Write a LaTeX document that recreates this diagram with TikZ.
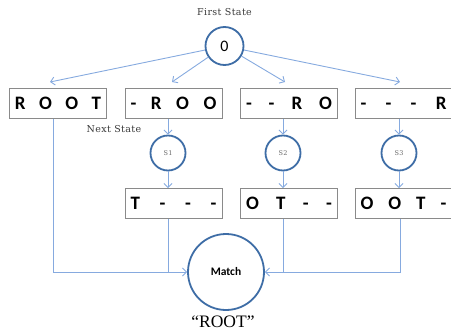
\documentclass[tikz,border=0pt]{standalone}
\usepackage{fontspec}
\setmainfont{Liberation Serif}
\newfontfamily\boxfont{Carlito}
\newfontfamily\lblfont[LetterSpace=4]{DejaVu Serif}
\usetikzlibrary{arrows.meta}
\definecolor{flow}{HTML}{86AADF}
\definecolor{ring}{HTML}{3E6DA6}
\definecolor{frame}{HTML}{8A8A8A}
\definecolor{note}{HTML}{3A3A3A}
\tikzset{
  flowline/.style={draw=flow, line width=0.9pt},
  flowarrow/.style={flowline, -{Straight Barb[length=4pt,width=8pt]}},
  wordbox/.style={draw=frame, line width=0.8pt, minimum width=97pt, minimum height=30pt,
    inner sep=0pt, font=\boxfont\bfseries\fontsize{19}{19}\selectfont},
  state/.style={circle, draw=ring, line width=1.8pt, inner sep=0pt, fill=white},
  note/.style={font=\lblfont\fontsize{9.5}{10}\selectfont, text=note},
  substate/.style={state, minimum size=35pt, font=\lblfont\fontsize{6.5}{7}\selectfont, text=note!75},
}
\newcommand{\spreadword}[1]{\makebox[86pt][s]{#1}}
\begin{document}
\begin{tikzpicture}[x=1pt, y=-1pt]
\useasboundingbox (0,0) rectangle (451,335);

% start state
\node[note] (first) at (224.5,12) {First State};
\node[state, minimum size=38pt, font=\boxfont\fontsize{16}{16}\selectfont] (s0) at (224.5,46) {0};

% shifted copies of the word
\node[wordbox] (w1) at (58,103.5)    {\spreadword{R\hfill O\hfill O\hfill T}};
\node[wordbox] (w2) at (173.5,103.5) {\spreadword{-\hfill R\hfill O\hfill O}};
\node[wordbox] (w3) at (289,103.5)   {\spreadword{-\hfill -\hfill R\hfill O}};
\node[wordbox] (w4) at (403.5,103.5) {\spreadword{-\hfill -\hfill -\hfill R}};

\coordinate (t1) at (50,82);
\coordinate (t2) at (172,82);
\coordinate (t3) at (285,82);
\coordinate (t4) at (400,82);
\foreach \t in {t1,t2,t3,t4} \draw[flowarrow] (s0) -- (\t);

% next states
\node[note] (next) at (114,129) {Next State};
\node[substate] (s1) at (168,153) {S1};
\node[substate] (s2) at (283,153) {S2};
\node[substate] (s3) at (399,153) {S3};

\node[wordbox] (v1) at (173.5,203.5) {\spreadword{T\hfill -\hfill -\hfill -}};
\node[wordbox] (v2) at (289,203.5)   {\spreadword{O\hfill T\hfill -\hfill -}};
\node[wordbox] (v3) at (403.5,203.5) {\spreadword{O\hfill O\hfill T\hfill -}};

\draw[flowarrow] (s1 |- w2.south) -- (s1);
\draw[flowarrow] (s2 |- w3.south) -- (s2);
\draw[flowarrow] (s3 |- w4.south) -- (s3);
\draw[flowarrow] (s1) -- (s1 |- v1.north);
\draw[flowarrow] (s2) -- (s2 |- v2.north);
\draw[flowarrow] (s3) -- (s3 |- v3.north);

% final state
\node[state, minimum size=76pt, font=\boxfont\bfseries\fontsize{11.5}{12}\selectfont] (m) at (226,272) {Match};
\node (root) at (223,322) {\fontsize{17.5}{18}\selectfont “ROOT”};

\coordinate (k1) at ([xshift=-5pt]w1.south);
\coordinate (k3) at ([xshift=1pt]s3 |- v3.south);
\draw[flowarrow] (k1) |- (m.west);
\draw[flowline] (s1 |- v1.south) -- (s1 |- m.west);
\draw[flowarrow] (k3) |- (m.east);
\draw[flowline] (s2 |- v2.south) -- (s2 |- m.east);
\end{tikzpicture}
\end{document}
